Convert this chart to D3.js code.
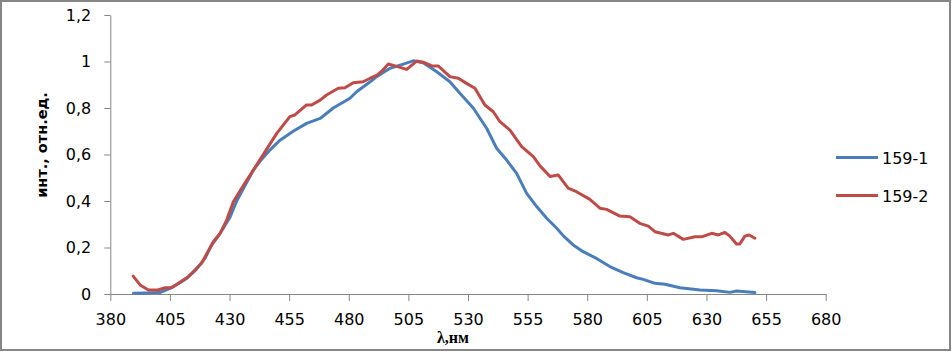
<!DOCTYPE html>
<html>
<head>
<meta charset="utf-8">
<script src="https://cdn.jsdelivr.net/npm/d3@7"></script>
<style>
  html, body { margin: 0; padding: 0; background: #fff; }
  svg { display: block; }
</style>
</head>
<body>
<svg id="chart" width="952" height="352"></svg>
<script>
// ---- data ----
const seriesNames = ["159-1", "159-2"];
const seriesColors = ["#4A7EBB", "#BE4B48"];

const wl1 = [389.7,395,400.8,405,408.5,412,416,419.7,422.5,426,430.2,433,436.5,440,443.5,447,451,456.7,462.3,468,473.5,480.5,483.3,489,491.7,497.3,502.9,507,511.2,516.9,522.4,526.6,532.2,537.8,542,546.2,550.4,554.6,558.8,563,567.2,570,574.1,578.3,583.9,589.5,595.1,600.7,603.5,608.4,612.6,618.9,627.3,634.3,639.8,642.6,650.3];
const val1 = [0.003,0.004,0.006,0.024,0.044,0.067,0.105,0.154,0.21,0.26,0.33,0.40,0.466,0.533,0.58,0.62,0.66,0.70,0.734,0.755,0.80,0.842,0.87,0.913,0.935,0.971,0.989,1.003,0.995,0.956,0.913,0.863,0.80,0.713,0.627,0.576,0.519,0.433,0.376,0.326,0.283,0.25,0.211,0.182,0.153,0.118,0.092,0.07,0.063,0.046,0.042,0.027,0.017,0.014,0.007,0.013,0.006];

const wl2 = [389.6,392.5,396,400,403,405.7,410,412.7,418.3,423.2,426,428.8,431.6,436,440,444,449.8,455.3,457.4,462.3,464.4,468,470.7,475.6,478.4,481.9,486,489,491.7,494,496.6,499.4,504.3,508.5,511.2,514.8,517.5,522.4,525.9,529.4,532.9,537.1,540.6,543.4,547.6,552.5,557.4,560.2,564.4,567.8,572,575.5,581.1,585.3,588.1,593.7,597.9,602,605.6,608.4,614,616.1,620.3,625.2,628,632.2,635,637.7,639.8,642.6,644,646.1,647.9,650.3];
const val2 = [0.077,0.039,0.017,0.017,0.027,0.027,0.056,0.074,0.132,0.225,0.26,0.318,0.397,0.47,0.533,0.598,0.691,0.763,0.77,0.813,0.813,0.834,0.856,0.885,0.887,0.909,0.913,0.928,0.94,0.96,0.989,0.981,0.966,1.002,0.997,0.981,0.981,0.935,0.928,0.906,0.885,0.813,0.784,0.741,0.705,0.634,0.591,0.551,0.505,0.512,0.455,0.44,0.407,0.369,0.364,0.335,0.332,0.304,0.292,0.268,0.254,0.261,0.235,0.246,0.246,0.261,0.254,0.265,0.249,0.215,0.215,0.249,0.254,0.24];

const xTicks = [380,405,430,455,480,505,530,555,580,605,630,655,680];
const yTicks = [0,0.2,0.4,0.6,0.8,1,1.2];
const yTitle = "инт., отн.ед.";
const xTitle = "λ,нм";

// ---- drawing ----
const svg = d3.select("#chart");
const W = 952, H = 352;

svg.append("rect")
  .attr("x", 1).attr("y", 1).attr("width", W - 3).attr("height", H - 3)
  .attr("fill", "#fff").attr("stroke", "#868686").attr("stroke-width", 2);

const x = d3.scaleLinear().domain([380, 680]).range([110.3, 825.7]);
const y = d3.scaleLinear().domain([0, 1.2]).range([294, 15]);

const axisColor = "#868686";
const fmt = v => String(+v.toFixed(1)).replace(".", ",");

const gx = svg.append("g").attr("transform", "translate(0,294)")
  .call(d3.axisBottom(x).tickValues(xTicks).tickSize(7).tickSizeOuter(0).tickPadding(13).tickFormat(d3.format("d")));
const gy = svg.append("g").attr("transform", "translate(110.3,0)")
  .call(d3.axisLeft(y).tickValues(yTicks).tickSize(6).tickSizeOuter(0).tickPadding(13).tickFormat(fmt));

[gx, gy].forEach(g => {
  g.select(".domain").attr("stroke", axisColor).attr("stroke-width", 1);
  g.selectAll(".tick line").attr("stroke", axisColor).attr("stroke-width", 1);
  g.selectAll(".tick text")
    .attr("font-family", "DejaVu Sans")
    .attr("font-size", 16)
    .attr("fill", "#000");
});

const line = d3.line().x(d => x(d[0])).y(d => y(d[1]));
const series = [d3.zip(wl1, val1), d3.zip(wl2, val2)];

series.forEach((s, i) => {
  svg.append("path")
    .datum(s)
    .attr("fill", "none")
    .attr("stroke", seriesColors[i])
    .attr("stroke-width", 3)
    .attr("stroke-linejoin", "round")
    .attr("stroke-linecap", "round")
    .attr("d", line);
});

// legend
const legend = svg.append("g");
seriesNames.forEach((name, i) => {
  const ly = 157.5 + i * 38;
  legend.append("line")
    .attr("x1", 836).attr("x2", 878).attr("y1", ly).attr("y2", ly)
    .attr("stroke", seriesColors[i]).attr("stroke-width", 3);
  legend.append("text")
    .attr("x", 882).attr("y", ly + 6)
    .attr("font-family", "DejaVu Sans").attr("font-size", 16)
    .attr("fill", "#000")
    .text(name);
});

// axis titles
svg.append("text")
  .attr("transform", "translate(47,145) rotate(-90)")
  .attr("text-anchor", "middle")
  .attr("font-family", "DejaVu Sans").attr("font-weight", "bold").attr("font-size", 14.5)
  .attr("fill", "#000")
  .text(yTitle);

svg.append("text")
  .attr("x", 437).attr("y", 343)
  .attr("font-family", "Liberation Serif").attr("font-weight", "bold").attr("font-size", 16)
  .attr("fill", "#000")
  .text(xTitle);
</script>
</body>
</html>
